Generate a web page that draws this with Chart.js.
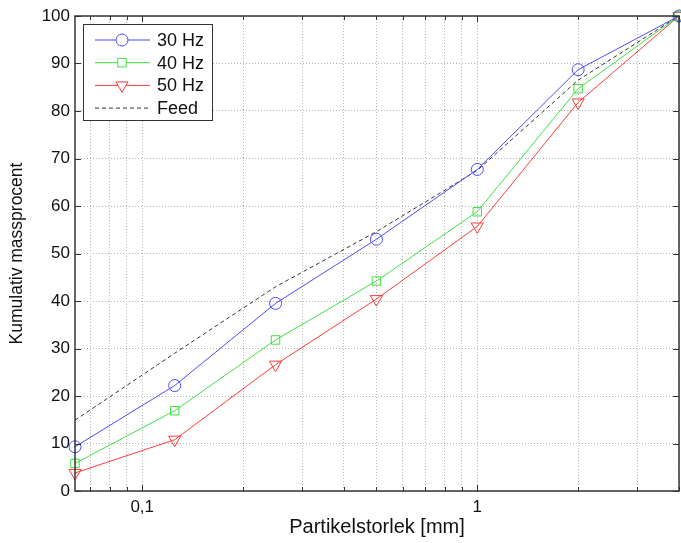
<!DOCTYPE html>
<html>
<head>
<meta charset="utf-8">
<script src="https://cdn.jsdelivr.net/npm/chart.js@4"></script>
<style>
  html, body { margin: 0; padding: 0; background: #fff; }
  #wrap { width: 681px; height: 543px; }
</style>
</head>
<body>
<div id="wrap"><canvas id="sieve-chart" width="681" height="543"></canvas></div>
<script>
// sieve sizes [mm]
const sizes = [0.063, 0.125, 0.25, 0.5, 1, 2, 4];
const hz30 = [9.3, 22.2, 39.5, 53.0, 67.7, 88.7, 100];
const hz40 = [5.8, 16.9, 31.8, 44.2, 58.8, 84.7, 100];
const hz50 = [3.8, 10.8, 26.6, 40.4, 55.7, 81.8, 100];
const feed = [14.9, 29.0, 43.0, 54.6, 67.5, 86.5, 100];

const xGridValues = [0.07, 0.08, 0.09, 0.1, 0.2, 0.3, 0.4, 0.5, 0.6, 0.7, 0.8, 0.9, 1, 2, 3, 4];
const xLabels = { 0.1: '0,1', 1: '1' };
const yTicks = [0, 10, 20, 30, 40, 50, 60, 70, 80, 90, 100];

const FONT = 'Liberation Sans, Arial, sans-serif';

function pts(ys) {
	return sizes.map((x, i) => ({ x: x, y: ys[i] }));
}

const series = [
	{ label: '30 Hz', data: pts(hz30), color: '#4b4bff', style: 'circle', radius: 6, rotation: 0 },
	{ label: '40 Hz', data: pts(hz40), color: '#3de23d', style: 'rect', radius: 6, rotation: 0 },
	{ label: '50 Hz', data: pts(hz50), color: '#ff3a3a', style: 'triangle', radius: 7, rotation: 180 },
	{ label: 'Feed', data: pts(feed), color: '#333333', style: false, radius: 0, rotation: 0, dash: [4, 3] },
];

// frame, inward tick marks and legend box
const framePlugin = {
	id: 'frame',
	afterDraw(chart) {
		const ctx = chart.ctx;
		const a = chart.chartArea;
		const xs = chart.scales.x;
		const ys = chart.scales.y;
		ctx.save();
		ctx.strokeStyle = '#333';
		ctx.lineWidth = 1;
		ctx.beginPath();
		xGridValues.forEach(v => {
			const px = Math.round(xs.getPixelForValue(v)) + 0.5;
			const len = (v === 0.1 || v === 1) ? 6 : 4;
			ctx.moveTo(px, a.bottom); ctx.lineTo(px, a.bottom - len);
			ctx.moveTo(px, a.top); ctx.lineTo(px, a.top + len);
		});
		yTicks.forEach(v => {
			const py = Math.round(ys.getPixelForValue(v)) + 0.5;
			ctx.moveTo(a.left, py); ctx.lineTo(a.left + 6, py);
			ctx.moveTo(a.right, py); ctx.lineTo(a.right - 6, py);
		});
		ctx.stroke();
		ctx.lineWidth = 1.5;
		ctx.strokeRect(a.left, a.top, a.right - a.left, a.bottom - a.top);

		// legend
		const lx = 83, ly = 24, lw = 129, lh = 96;
		ctx.fillStyle = '#fff';
		ctx.fillRect(lx, ly, lw, lh);
		ctx.lineWidth = 1;
		ctx.strokeStyle = '#333';
		ctx.strokeRect(lx + 0.5, ly + 0.5, lw, lh);
		ctx.font = '18px ' + FONT;
		ctx.textBaseline = 'middle';
		series.forEach((s, i) => {
			const cy = ly + 16 + i * 22.7;
			ctx.strokeStyle = s.color;
			ctx.lineWidth = 1;
			ctx.setLineDash(s.dash || []);
			ctx.beginPath();
			ctx.moveTo(lx + 12, cy); ctx.lineTo(lx + 67, cy);
			ctx.stroke();
			ctx.setLineDash([]);
			if (s.style) {
				ctx.fillStyle = 'rgba(255,255,255,1)';
				Chart.helpers.drawPoint(ctx, {
					pointStyle: s.style, radius: s.radius, rotation: s.rotation, borderWidth: 1
				}, lx + 39, cy);
			}
			ctx.fillStyle = '#111';
			ctx.fillText(s.label, lx + 74, cy + 1);
		});
		ctx.restore();
	}
};

new Chart(
	document.getElementById('sieve-chart'),
	{
		type: 'line',
		data: {
			datasets: series.map(s => ({
				label: s.label,
				data: s.data,
				borderColor: s.color,
				borderWidth: 1,
				borderDash: s.dash || [],
				pointStyle: s.style,
				pointRadius: s.radius,
				pointRotation: s.rotation,
				pointBorderColor: s.color,
				pointBackgroundColor: 'rgba(0,0,0,0)',
				pointBorderWidth: 1,
				tension: 0,
				fill: false,
				clip: false,
			}))
		},
		options: {
			responsive: false,
			animation: false,
			events: [],
			layout: { autoPadding: false, padding: { top: 16, right: 2, left: 0, bottom: 0 } },
			plugins: {
				legend: { display: false },
				tooltip: { enabled: false },
			},
			scales: {
				x: {
					type: 'logarithmic',
					bounds: 'data',
					min: 0.063,
					max: 4,
					afterBuildTicks(scale) {
						scale.ticks = xGridValues.map(v => ({ value: v }));
						scale.min = 0.063;
						scale.max = 4;
					},
					afterFit(scale) {
						scale.height = 52;
						scale.paddingLeft = 0;
						scale.paddingRight = 0;
					},
					grid: {
						color: '#b4b4b4',
						lineWidth: 1,
						drawTicks: false,
					},
					border: { display: false, dash: [1, 2] },
					ticks: {
						autoSkip: false,
						maxRotation: 0,
						padding: 6,
						color: '#111',
						font: { family: FONT, size: 17 },
						callback: v => xLabels[v] || '',
					},
					title: {
						display: true,
						text: 'Partikelstorlek [mm]',
						color: '#111',
						font: { family: FONT, size: 20 },
						padding: { top: 0, bottom: 4 },
					},
				},
				y: {
					min: 0,
					max: 100,
					afterBuildTicks(scale) {
						scale.ticks = yTicks.map(v => ({ value: v }));
					},
					afterFit(scale) { scale.width = 75; },
					grid: {
						color: '#b4b4b4',
						lineWidth: 1,
						drawTicks: false,
					},
					border: { display: false, dash: [1, 2] },
					ticks: {
						padding: 5,
						color: '#111',
						font: { family: FONT, size: 17 },
					},
					title: {
						display: true,
						text: 'Kumulativ massprocent',
						color: '#111',
						font: { family: FONT, size: 17.5 },
						padding: { top: 7, bottom: 0 },
					},
				},
			},
		},
		plugins: [framePlugin],
	}
);
</script>
</body>
</html>
